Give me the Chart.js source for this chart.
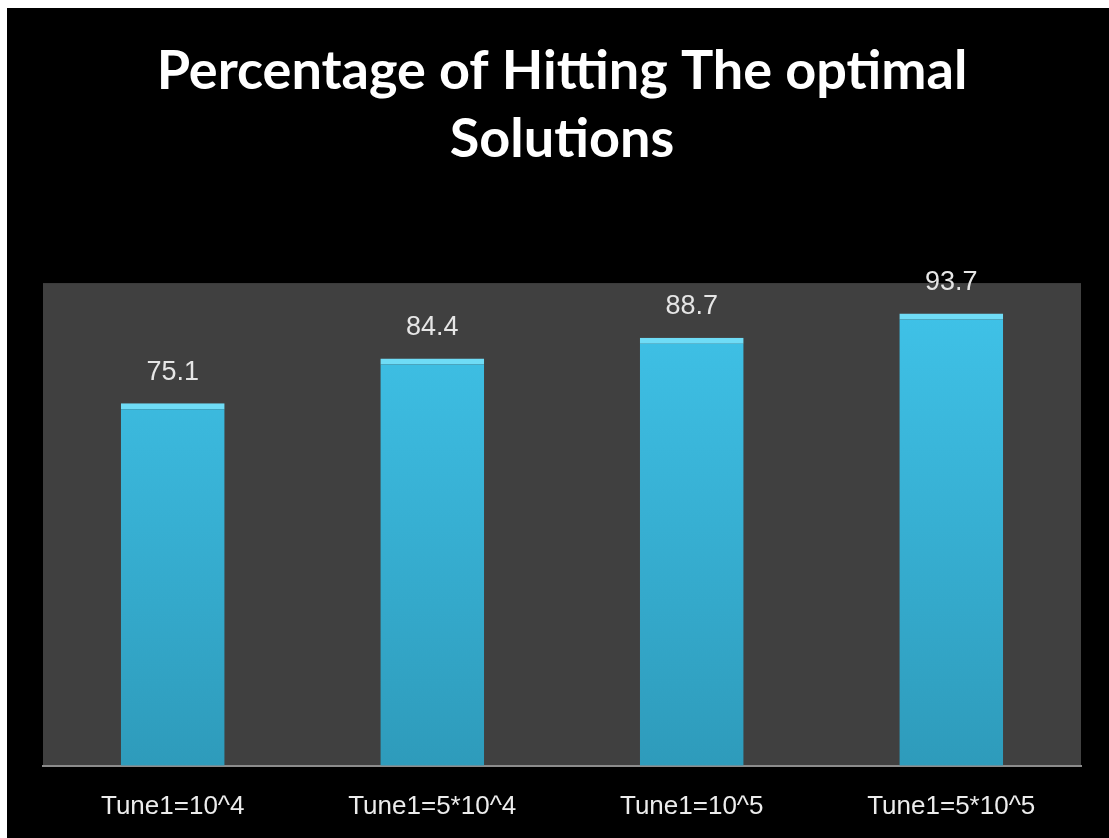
<!DOCTYPE html>
<html>
<head>
<meta charset="utf-8">
<script src="https://cdn.jsdelivr.net/npm/chart.js@4/dist/chart.umd.min.js"></script>
<style>
  html, body { margin: 0; padding: 0; background: #ffffff; }
  #wrap { position: absolute; left: 7px; top: 8px; width: 1102px; height: 830px; background: #000000; }
  canvas { display: block; }
</style>
</head>
<body>
<div id="wrap"><canvas id="c" width="1102" height="830"></canvas></div>
<script>
const titleLines = ["Percentage of Hitting The optimal", "Solutions"];
const categories = ["Tune1=10^4", "Tune1=5*10^4", "Tune1=10^5", "Tune1=5*10^5"];
const values = [75.1, 84.4, 88.7, 93.7];
const yMin = 0;
const yMax = 100;

const plotBg = {
  id: 'plotBg',
  beforeDraw(chart) {
    const {ctx, chartArea: a} = chart;
    ctx.save();
    ctx.fillStyle = '#404040';
    ctx.fillRect(a.left, a.top, a.right - a.left, a.bottom - a.top);
    ctx.restore();
  }
};

const valueLabels = {
  id: 'valueLabels',
  afterDatasetsDraw(chart) {
    const {ctx} = chart;
    const meta = chart.getDatasetMeta(0);
    ctx.save();
    ctx.fillStyle = '#e6e6e6';
    ctx.font = '27px "Liberation Sans", Arial, sans-serif';
    ctx.textAlign = 'center';
    ctx.textBaseline = 'middle';
    meta.data.forEach((bar, i) => {
      ctx.fillText(String(chart.data.datasets[0].data[i]), bar.x, bar.y - 31);
    });
    ctx.restore();
  }
};

function barGradient(context) {
  const chart = context.chart;
  const a = chart.chartArea;
  if (!a) return '#3ab3d8';
  const g = chart.ctx.createLinearGradient(0, a.top, 0, a.bottom);
  g.addColorStop(0, '#40c4ea');
  g.addColorStop(1, '#2e9bbb');
  return g;
}

new Chart(document.getElementById('c'), {
  type: 'bar',
  data: {
    labels: categories,
    datasets: [{
      data: values,
      backgroundColor: barGradient,
      borderColor: '#6fdcf6',
      borderWidth: {top: 6, left: 0, right: 0, bottom: 0},
      borderSkipped: 'bottom',
      barPercentage: 0.4,
      categoryPercentage: 1.0
    }]
  },
  options: {
    responsive: false,
    animation: false,
    events: [],
    layout: { padding: { left: 36, right: 28, top: 0, bottom: -1 } },
    plugins: {
      legend: { display: false },
      tooltip: { enabled: false },
      title: {
        display: true,
        text: titleLines,
        color: '#ffffff',
        font: { family: 'Lato, "Liberation Sans", sans-serif', size: 54, weight: 'bold', lineHeight: 1.26 },
        padding: { top: 30, bottom: 109 }
      }
    },
    scales: {
      x: {
        grid: { display: false },
        border: { display: true, color: '#8c8c8c', width: 2 },
        ticks: {
          color: '#ececec',
          font: { family: '"Liberation Sans", Arial, sans-serif', size: 26 },
          padding: 17,
          maxRotation: 0
        }
      },
      y: {
        display: false,
        min: yMin,
        max: yMax
      }
    }
  },
  plugins: [plotBg, valueLabels]
});
</script>
</body>
</html>
